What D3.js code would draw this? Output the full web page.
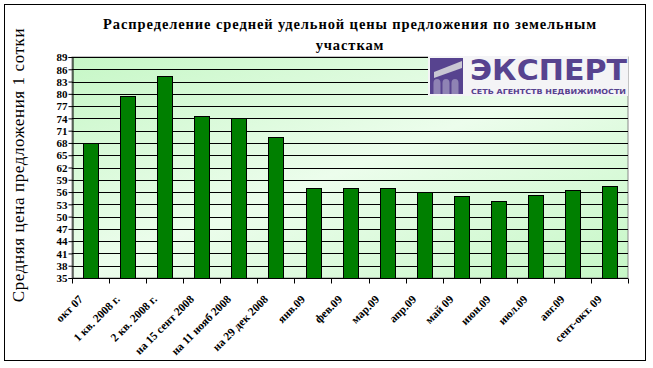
<!DOCTYPE html>
<html><head><meta charset="utf-8">
<script src="https://cdn.jsdelivr.net/npm/d3@7"></script>
<style>body{margin:0;background:#fff}svg{display:block}</style>
</head><body>
<svg id="c" width="653" height="368"></svg>
<script>
const categories = ["окт 07","1 кв. 2008 г.","2 кв. 2008 г.","на 15 сент 2008","на 11 нояб 2008","на 29 дек 2008","янв.09","фев.09","мар.09","апр.09","май 09","июн.09","июл.09","авг.09","сент-окт. 09"];
const values = [68.0, 79.5, 84.4, 74.7, 74.2, 69.4, 56.9, 56.9, 56.9, 56.1, 55.0, 53.9, 55.2, 56.4, 57.4];
const yTicks = [35,38,41,44,47,50,53,56,59,62,65,68,71,74,77,80,83,86,89];
const titleLines = ["Распределение средней удельной цены предложения по земельным", "участкам"];
const yLabel = "Средняя цена предложения 1 сотки";

const svg = d3.select("#c");
const L = 72, R = 628, T = 57, B = 278;
const serif = "'Liberation Serif', 'DejaVu Serif', serif";

svg.append("rect").attr("x",4.5).attr("y",4.5).attr("width",641).attr("height",356)
  .attr("fill","#fff").attr("stroke","#000").attr("stroke-width",1);

const defs = svg.append("defs");
const g = defs.append("linearGradient").attr("id","bg").attr("x1","0").attr("y1","0").attr("x2","1").attr("y2","1");
g.append("stop").attr("offset","0").attr("stop-color","#c6f7c6");
g.append("stop").attr("offset","0.5").attr("stop-color","#ecfdec");
g.append("stop").attr("offset","1").attr("stop-color","#c6f7c6");

const x = d3.scaleBand().domain(categories).range([L,R]).paddingInner(0.6).paddingOuter(0.3);
const xb = d3.scaleBand().domain(categories).range([L,R]);
const y = d3.scaleLinear().domain([35,89]).range([B,T]);

svg.append("rect").attr("x",L).attr("y",T).attr("width",R-L).attr("height",B-T)
  .attr("fill","url(#bg)").attr("stroke","#888").attr("stroke-width",1);

// grid
svg.append("g").selectAll("line").data(yTicks.slice(1)).join("line")
  .attr("x1",L).attr("x2",R).attr("y1",d=>Math.round(y(d))+0.5).attr("y2",d=>Math.round(y(d))+0.5)
  .attr("stroke","#000").attr("stroke-width",1);

// bars
svg.append("g").selectAll("rect").data(values).join("rect")
  .attr("x",(d,i)=>Math.round(x(categories[i]))+0.5)
  .attr("y",d=>Math.round(y(d))+0.5)
  .attr("width",Math.round(x.bandwidth()))
  .attr("height",d=>B-Math.round(y(d)))
  .attr("fill","#007f00").attr("stroke","#000").attr("stroke-width",1);

// y axis
const ya = d3.axisLeft(y).tickValues(yTicks).tickSize(4).tickFormat(d3.format("d"));
const yg = svg.append("g").attr("transform",`translate(${L+0.5},0)`).call(ya);
yg.attr("font-family",null).attr("font-size",null);
yg.select(".domain").attr("stroke","#000");
yg.selectAll("text").style("font-family",serif).style("font-weight","bold").style("font-size","11px").attr("fill","#000").attr("x",-5).attr("dy","0.34em");

// x axis
const xg = svg.append("g").attr("transform",`translate(0,${B+0.5})`);
xg.append("line").attr("x1",L).attr("x2",R).attr("stroke","#000");
xg.selectAll(".bt").data(categories.concat(["_end"])).join("line")
  .attr("x1",(d,i)=>Math.round(L+i*xb.step())+0.5).attr("x2",(d,i)=>Math.round(L+i*xb.step())+0.5)
  .attr("y1",0).attr("y2",5).attr("stroke","#000");

svg.append("g").selectAll("text").data(categories).join("text")
  .attr("transform",d=>`translate(${xb(d)+xb.bandwidth()/2-7},${B+22}) rotate(-45)`)
  .attr("text-anchor","end").style("font-family",serif).style("font-size","11.5px").style("font-weight","bold").attr("fill","#000")
  .text(d=>d);

// title
svg.append("g").selectAll("text").data(titleLines).join("text")
  .attr("x",350).attr("y",(d,i)=>29+i*21).attr("text-anchor","middle")
  .style("font-family",serif).style("font-weight","bold").style("font-size","14.5px")
  .attr("letter-spacing",0.9).attr("fill","#000").text(d=>d);

// y label
svg.append("text").attr("transform",`translate(24,${165}) rotate(-90)`)
  .attr("text-anchor","middle").style("font-family",serif).style("font-size","17px")
  .attr("letter-spacing",0.6).attr("fill","#000").text(yLabel);

// logo
const lg = svg.append("g");
lg.append("rect").attr("x",428).attr("y",56).attr("width",200).attr("height",40).attr("fill","#f4f4f6");
lg.append("rect").attr("x",430).attr("y",58).attr("width",33).attr("height",36).attr("fill","#57438f");
lg.append("path").attr("d","M434,72 L462,61 L462,68 L434,78 Z").attr("fill","#c9c7d3");
[437,446,455].forEach(cx=>{
  lg.append("path").attr("d",`M${cx-3.5},94 L${cx-3.5},${83} A3.5,4 0 0 1 ${cx+3.5},83 L${cx+3.5},94 Z`).attr("fill","#8f83b4");
});
lg.append("text").attr("transform","translate(470,80) scale(1,1.2)").style("font-family","DejaVu Sans, sans-serif").style("font-weight","bold")
  .style("font-size","24px").attr("textLength",157).attr("lengthAdjust","spacingAndGlyphs").attr("fill","#57438f").text("ЭКСПЕРТ");
lg.append("text").attr("x",471).attr("y",94).style("font-family","DejaVu Sans, sans-serif").style("font-weight","bold")
  .style("font-size","7px").attr("textLength",155).attr("lengthAdjust","spacingAndGlyphs").attr("fill","#57438f").text("СЕТЬ АГЕНТСТВ НЕДВИЖИМОСТИ");
</script>
</body></html>
